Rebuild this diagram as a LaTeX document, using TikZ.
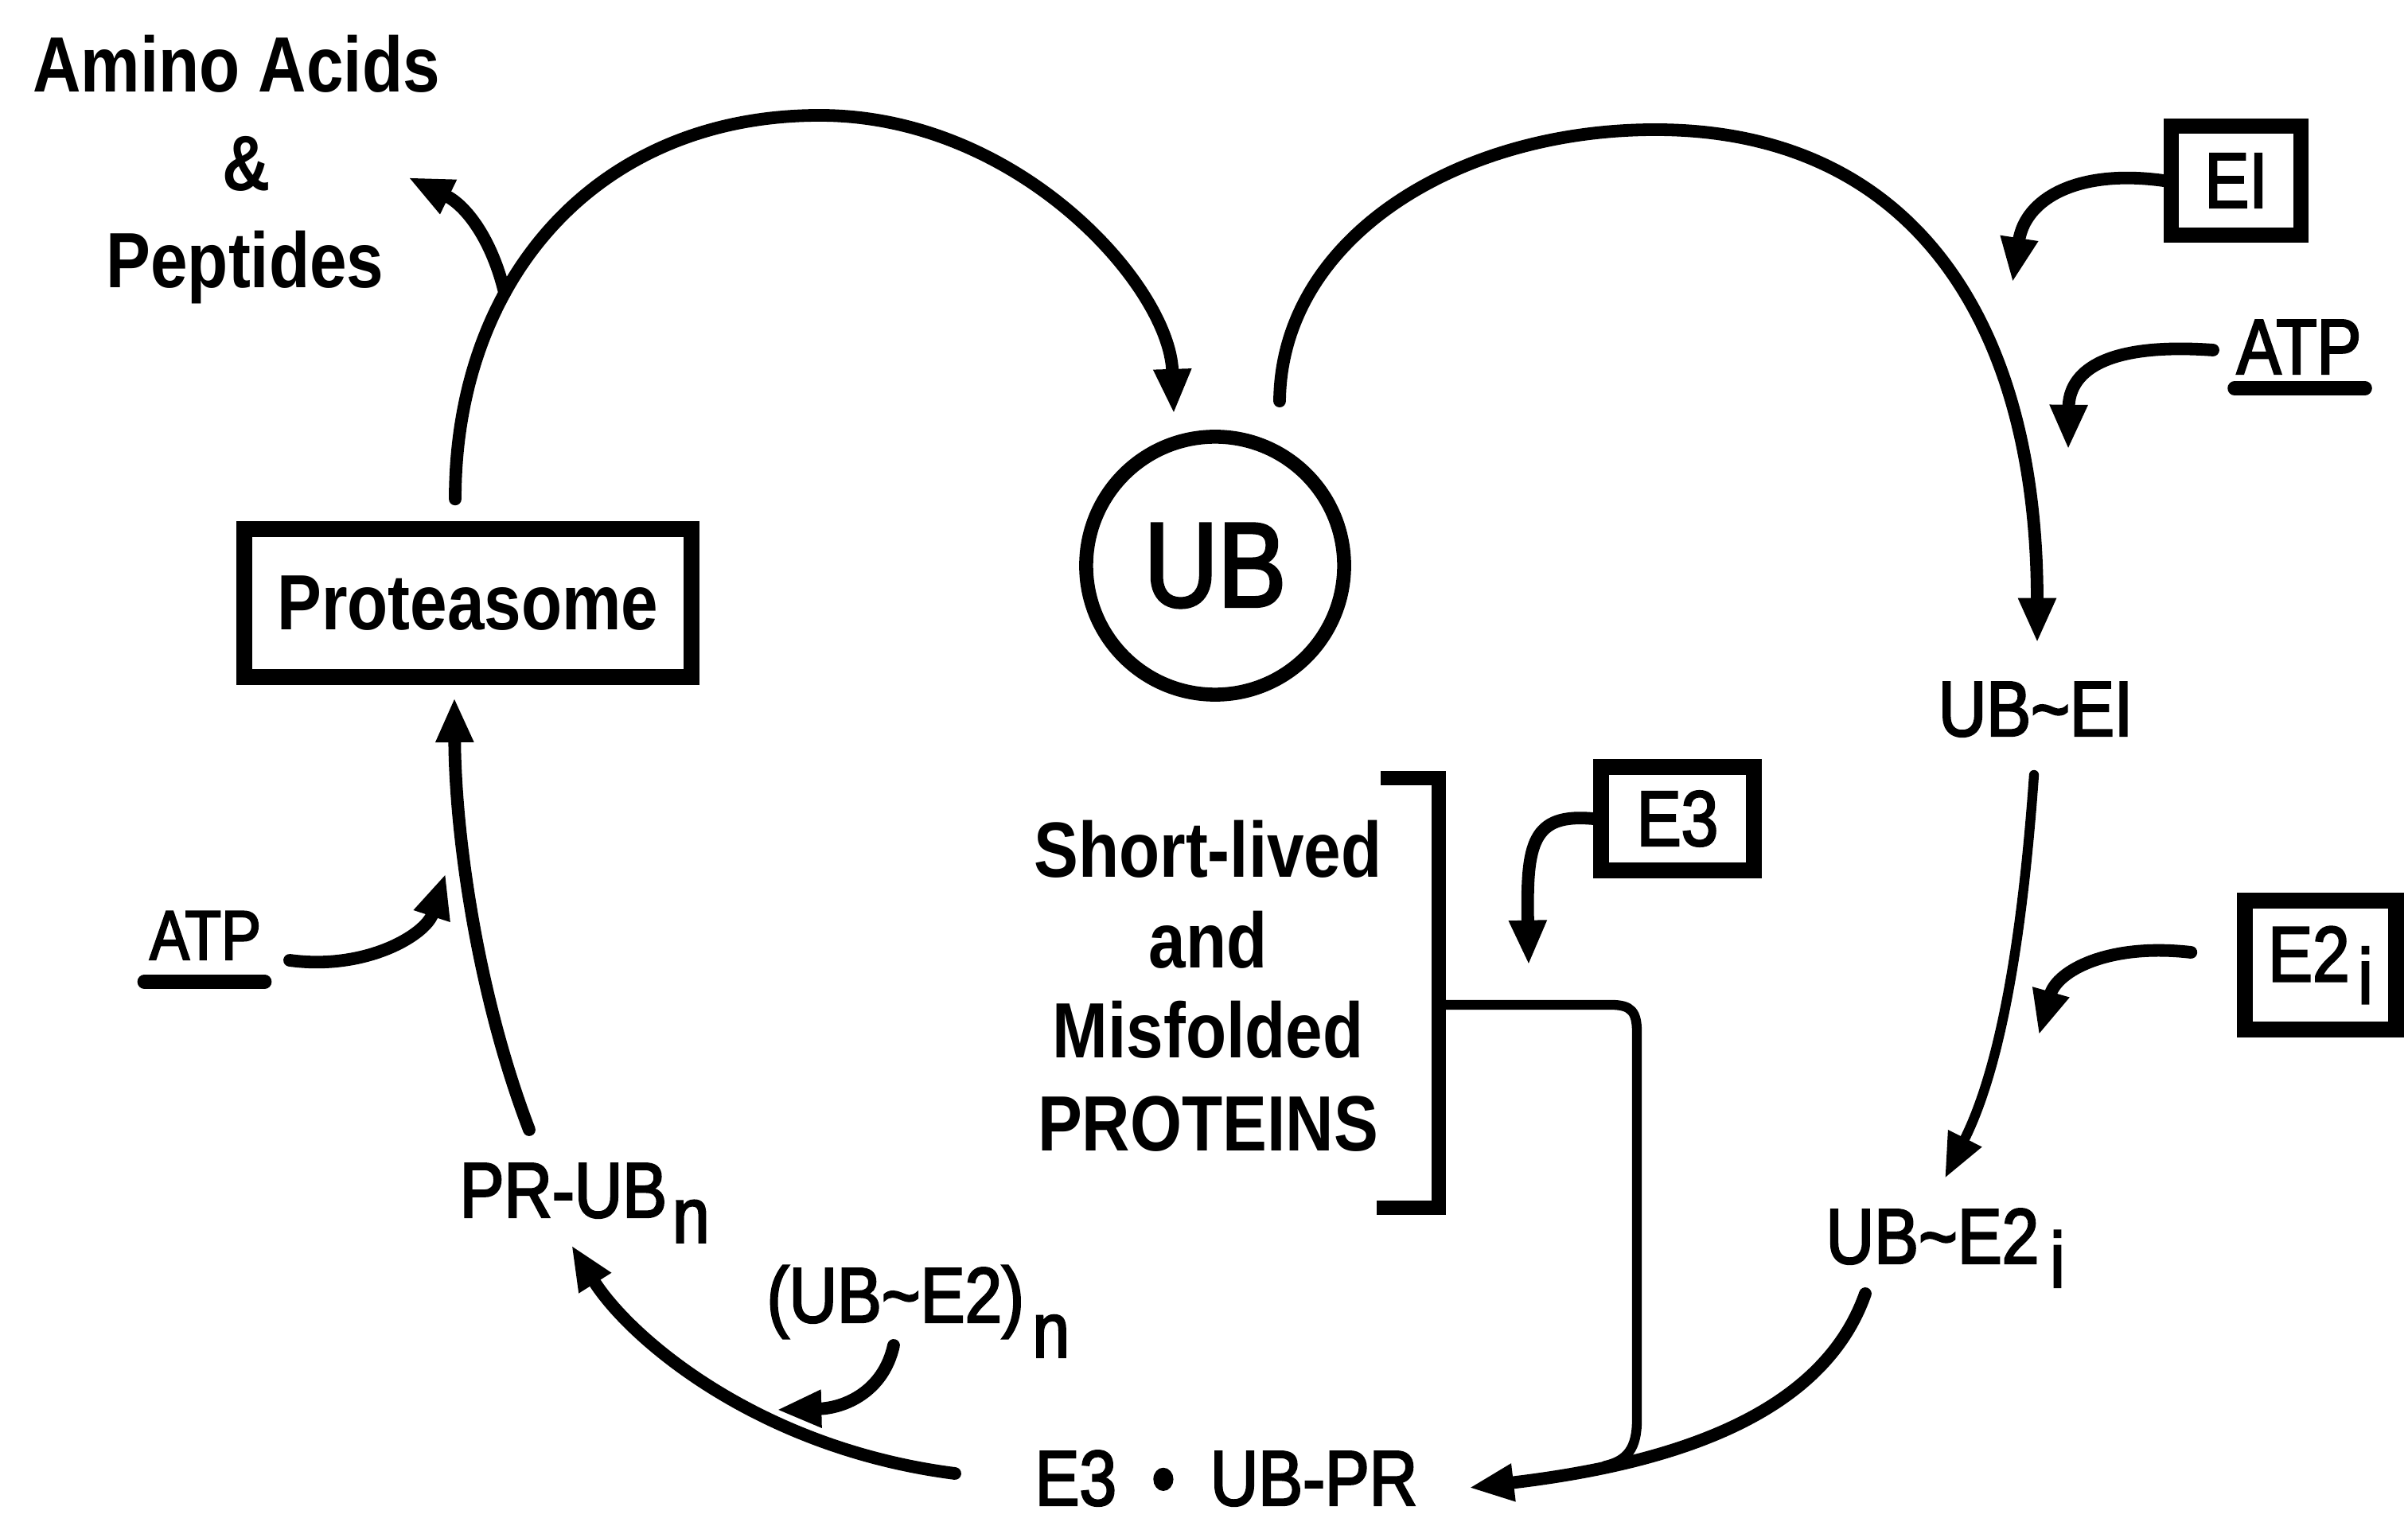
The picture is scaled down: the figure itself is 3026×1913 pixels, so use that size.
\documentclass[tikz,border=0pt]{standalone}
\usepackage{fontspec}
\setmainfont{Liberation Sans}[FakeStretch=0.85]
\newfontfamily\medfam{Liberation Sans}[FakeStretch=0.85,FakeBold=2.5]
\usetikzlibrary{arrows.meta,calc}
\newcommand\labfont{\medfam\fontsize{28}{34}\selectfont}
\newcommand\wordfont{\fontsize{28}{34}\selectfont\bfseries}
\newcommand\ubfont{\medfam\fontsize{43}{50}\selectfont}
\newcommand\atpfont{\medfam\fontsize{25}{30}\selectfont}
\begin{document}
\begin{tikzpicture}[x=0.01cm, y=-0.01cm,
  lbl/.style={inner sep=0pt, font=\labfont},
  tbox/.style={draw, rectangle, line width=5.5pt, inner sep=0pt, font=\labfont},
  conn/.style={line width=4.5pt, line cap=round, -{Triangle[length=16pt,width=12.5pt]}},
  thinconn/.style={conn, line width=3.5pt},
  rule/.style={line width=5pt, line cap=round}]
\useasboundingbox (0,0) rectangle (3026,1913);
\fill[white] (0,0) rectangle (3026,1913);

% ---- nodes
\node[lbl, font=\wordfont, anchor=base] (amino) at (297,116) {Amino Acids};
\node[lbl, font=\wordfont, anchor=base] (amp) at (310,240) {\&};
\node[lbl, font=\wordfont, anchor=base] (pept) at (308,362) {Peptides};
\node[tbox, font=\wordfont, minimum width=5.62cm, minimum height=1.86cm] (prot) at (588,758) {Proteasome};
\node[circle, draw, line width=5pt, minimum size=3.24cm, inner sep=0pt, font=\ubfont] (ub) at (1527,711) {UB};
\node[tbox, minimum width=1.63cm, minimum height=1.37cm] (e1) at (2810,227) {EI};
\node[lbl, anchor=base] (atpr) at (2889,470) {ATP};
\node[lbl, anchor=base] (ube1) at (2558,925) {UB\textasciitilde EI};
\node[tbox, minimum width=1.90cm, minimum height=1.62cm] (e2) at (2916,1213) {E2\kern3pt\raisebox{-8pt}{i}};
\node[lbl, anchor=base west] (ube2) at (2294,1588) {UB\textasciitilde E2\kern4pt\raisebox{-8.5pt}{i}};
\node[tbox, minimum width=1.92cm, minimum height=1.30cm] (e3) at (2108,1029) {E3};
\node[lbl, font=\wordfont, anchor=base] (sl1) at (1518,1103) {Short-lived};
\node[lbl, font=\wordfont, anchor=base] (sl2) at (1518,1217) {and};
\node[lbl, font=\wordfont, anchor=base] (sl3) at (1518,1330) {Misfolded};
\node[lbl, font=\wordfont, anchor=base] (sl4) at (1518,1446) {PROTEINS};
\node[lbl, anchor=base] (e3ubpr) at (1541,1892) {E3\hspace{0.45em}\textbullet\hspace{0.45em}UB-PR};
\node[lbl, anchor=base west] (prubn) at (577,1530) {PR-UB\kern2pt\raisebox{-9pt}{n}};
\node[lbl, anchor=base west] (ube2n) at (963,1662) {(UB\textasciitilde E2)\kern3pt\raisebox{-12.5pt}{n}};
\node[lbl, font=\atpfont, anchor=base] (atpl) at (258,1206) {ATP};

% ---- free ends
\coordinate (peptip) at (513,223);
\coordinate (e1tip) at (2529,355);
\coordinate (atprtip) at (2599,565);
\coordinate (e2tip) at (2562,1301);
\coordinate (e3tip) at (1921,1213);
\coordinate (ntip) at (976,1772);
\coordinate (atpltip) at (560,1098);
\coordinate (brk) at (1808,1263);

% ---- underlines
\draw[rule] ($(atpr.base west)+(-2,18)$) -- ($(atpr.base east)+(4,18)$);
\draw[rule] ($(atpl.base west)+(-6,28)$) -- ($(atpl.base east)+(4,28)$);

% ---- bracket
\draw[line width=5pt] (1735,978) -- (1808,978) -- (1808,1518) -- (1730,1518);

% ---- main cycle
\draw[conn] ($(prot.north)+(-16,-28)$) .. controls (572,350) and (750,145) .. (1030,145) coordinate[pos=0.35] (br)
  .. controls (1280,145) and (1470,360) .. ($(ub.north)+(-52,-20)$);
\draw[conn] (br) .. controls (618,300) and (585,258) .. (peptip);
\draw[conn] ($(ub.north)+(81,-36)$) .. controls (1610,300) and (1830,163) .. (2080,163)
  .. controls (2400,163) and (2560,400) .. ($(ube1.base)+(2,-117)$);
\draw[conn] (e1.west) .. controls (2610,212) and (2545,250) .. (e1tip);
\draw[conn] ($(atpr.base)+(-108,-30)$) .. controls (2640,430) and (2600,470) .. (atprtip);
\draw[thinconn] ($(ube1.base)+(-2,49)$) .. controls (2540,1200) and (2510,1350) .. ($(ube2.base west)+(150,-107)$);
\draw[conn] ($(e2.west)+(-58,-16)$) .. controls (2650,1185) and (2585,1220) .. (e2tip);
\draw[conn] ($(ube2.base west)+(50,38)$) .. controls (2290,1780) and (2100,1840) .. ($(e3ubpr.base)+(305,-22)$) coordinate[pos=0.76] (merge);
\draw[line width=3.5pt, line cap=round] (brk) -- (2025,1263) .. controls (2050,1263) and (2057,1272) .. (2057,1297)
  -- (2057,1785) .. controls (2057,1820) and (2045,1836) .. (merge);
\draw[conn] (e3.west) .. controls (1925,1022) and (1918,1060) .. (e3tip);
\draw[conn] ($(e3ubpr.base)+(-341,-40)$) .. controls (950,1820) and (790,1680) .. ($(prubn.base west)+(141,35)$);
\draw[conn] ($(ube2n.base west)+(160,29)$) .. controls (1110,1750) and (1060,1770) .. (ntip);
\draw[conn] ($(prubn.base west)+(88,-110)$) .. controls (600,1250) and (572,1050) .. ($(prot.south)+(-17,16)$);
\draw[conn] ($(atpl.base)+(106,1)$) .. controls (460,1220) and (535,1175) .. (atpltip);
\end{tikzpicture}
\end{document}
